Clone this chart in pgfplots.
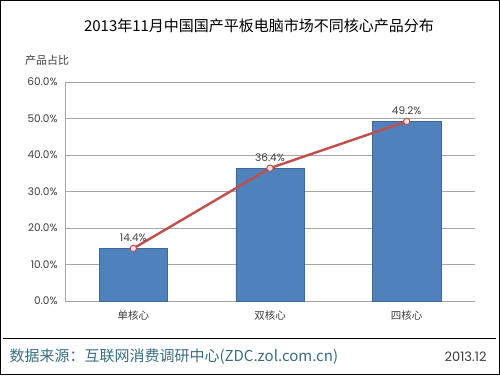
\documentclass[border=0pt]{standalone}
\usepackage{pgfplots}
\pgfplotsset{compat=1.18}
\usepackage{fontspec}
\setmainfont{Noto Sans CJK SC}
\newfontfamily\numfont{Poppins}
\definecolor{barblue}{HTML}{4F81BD}
\definecolor{linered}{HTML}{C0504D}
\definecolor{txtgray}{HTML}{404040}
\definecolor{srcteal}{HTML}{3A6E82}
\begin{document}
\begin{tikzpicture}[x=1bp,y=1bp]
\useasboundingbox (0,0) rectangle (500,375);
\fill[white] (0,0) rectangle (500,375);
\draw[black, line width=1.2bp] (0.6,0.6) rectangle (499.4,374.4);
\begin{axis}[
  at={(65bp,74bp)}, anchor=south west,
  scale only axis, width=410bp, height=219bp,
  xmin=-0.5, xmax=2.5, ymin=0, ymax=60,
  xtick={0,1,2}, xticklabels={单核心,双核心,四核心},
  minor xtick={-0.5,0.5,1.5,2.5},
  major tick length=0pt, minor tick length=5bp,
  tick align=outside,
  xtick style={draw=none}, minor tick style={gray!70, line width=0.8bp},
  ytick={0,10,...,60},
  yticklabel={\numfont\pgfmathprintnumber[fixed,fixed zerofill,precision=1]{\tick}\%},
  /pgf/number format/assume math mode=true,
  ymajorgrids, grid style={gray!70, line width=0.8bp},
  axis x line*=bottom, axis y line*=left,
  axis line style={gray!70, line width=0.8bp},
  every tick label/.append style={font=\fontsize{10.5bp}{12bp}\selectfont, text=txtgray},
  yticklabel style={xshift=-4bp},
  xticklabel style={yshift=-6bp},
  clip=false,
]
\addplot[ybar, bar width=0.5, fill=barblue, draw=barblue!80!black, bar shift=0pt]
  coordinates {(0,14.4) (1,36.4) (2,49.2)};
\addplot[linered, line width=2.4bp, mark=*, mark size=3.2bp,
  mark options={fill=white!85!linered, draw=linered, line width=1bp},
  nodes near coords={\numfont\pgfmathprintnumber[fixed,fixed zerofill,precision=1]{\pgfplotspointmeta}\%},
  point meta=explicit,
  every node near coord/.append style={font=\fontsize{10.5bp}{12bp}\selectfont, text=txtgray, yshift=3bp}]
  coordinates {(0,14.4) [14.4] (1,36.4) [36.4] (2,49.2) [49.2]};
\end{axis}
\node[font=\fontsize{15bp}{17bp}\selectfont, text=black] at (259,349) {2013年11月中国国产平板电脑市场不同核心产品分布};
\node[font=\fontsize{11bp}{13bp}\selectfont, text=txtgray] at (47,315) {产品占比};
\draw[black, line width=1bp] (3,37) -- (496,37);
\node[anchor=west, font=\fontsize{15bp}{17bp}\selectfont, text=srcteal] at (6,18) {数据来源：互联网消费调研中心(ZDC.zol.com.cn)};
\node[anchor=east, font=\numfont\fontsize{13bp}{15bp}\selectfont, text=txtgray] at (490,18) {2013.12};
\end{tikzpicture}
\end{document}
